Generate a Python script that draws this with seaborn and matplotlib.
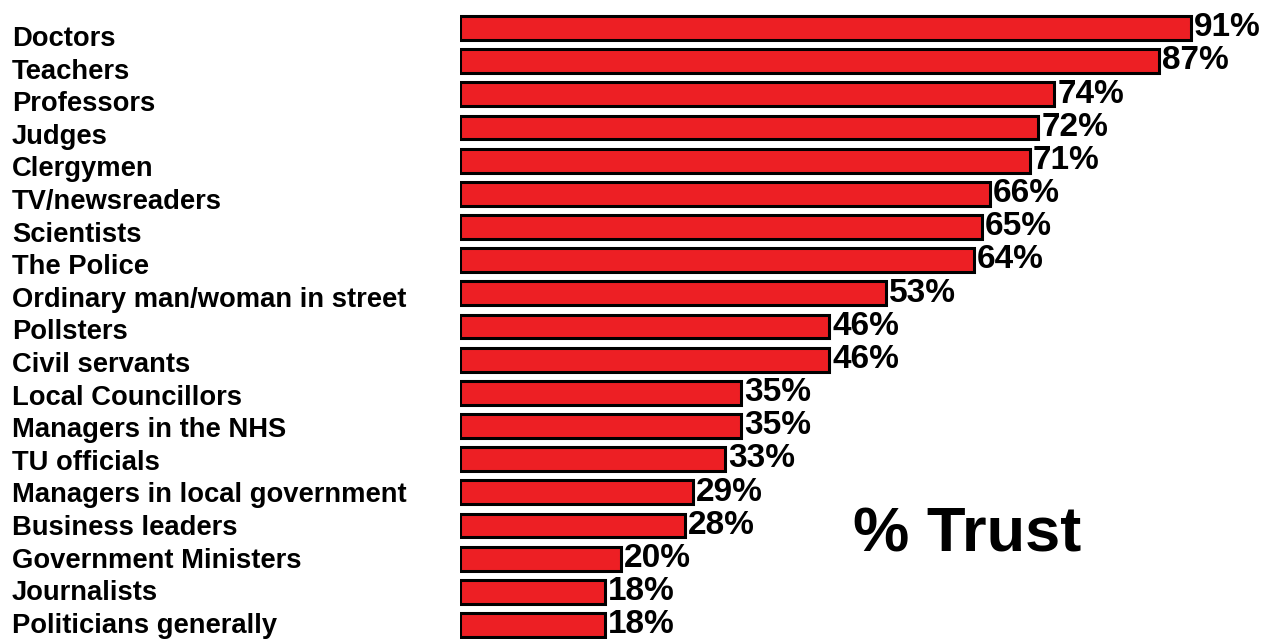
import matplotlib
matplotlib.use("Agg")
import matplotlib.pyplot as plt
import matplotlib.transforms as mtransforms
import seaborn as sns
import pandas as pd

categories = ["Doctors", "Teachers", "Professors", "Judges", "Clergymen",
              "TV/newsreaders", "Scientists", "The Police",
              "Ordinary man/woman in street", "Pollsters", "Civil servants",
              "Local Councillors", "Managers in the NHS", "TU officials",
              "Managers in local government", "Business leaders",
              "Government Ministers", "Journalists", "Politicians generally"]
values = [91, 87, 74, 72, 71, 66, 65, 64, 53, 46, 46, 35, 35, 33, 29, 28, 20, 18, 18]
value_labels = [f"{v}%" for v in values]
title_text = "% Trust"

sns.set_theme(style="white")
plt.rcParams['font.family'] = ['Liberation Sans', 'DejaVu Sans']

W, H = 1267, 639
fig = plt.figure(figsize=(W / 100, H / 100), dpi=100)
ax = fig.add_axes([460 / W, 0, 1 - 460 / W, 1])

df = pd.DataFrame({"cat": categories, "val": values})
sns.barplot(data=df, x="val", y="cat", orient="h", color="#ED1F24",
            saturation=1, edgecolor="black", linewidth=2.2, width=0.72, ax=ax)

ax.set_xlim(0, 100.5)
ax.set_ylim(18.42, -0.844)
ax.set_xlabel("")
ax.set_ylabel("")
ax.set_xticks([])
ax.set_yticks([])
for s in ax.spines.values():
    s.set_visible(False)

# category labels at the left edge of the figure
trans = mtransforms.blended_transform_factory(fig.transFigure, ax.transData)
for i, c in enumerate(categories):
    ax.text(12 / W, 0.33 + i * 0.983, c, transform=trans, ha="left", va="center",
            fontsize=19.7, fontweight="bold", color="black", clip_on=False)

# value labels
off = mtransforms.offset_copy(ax.transData, fig=fig, x=3, y=0, units="dots")
for i, (v, lab) in enumerate(zip(values, value_labels)):
    ax.text(v, i - 0.01, lab, transform=off, ha="left", va="center",
            fontsize=24, fontweight="bold", color="black")

fig.text(853 / W, 1 - 535 / H, title_text, ha="left", va="center",
         fontsize=45.5, fontweight="bold", color="black")

fig.savefig("out.png", dpi=100, facecolor="white")
